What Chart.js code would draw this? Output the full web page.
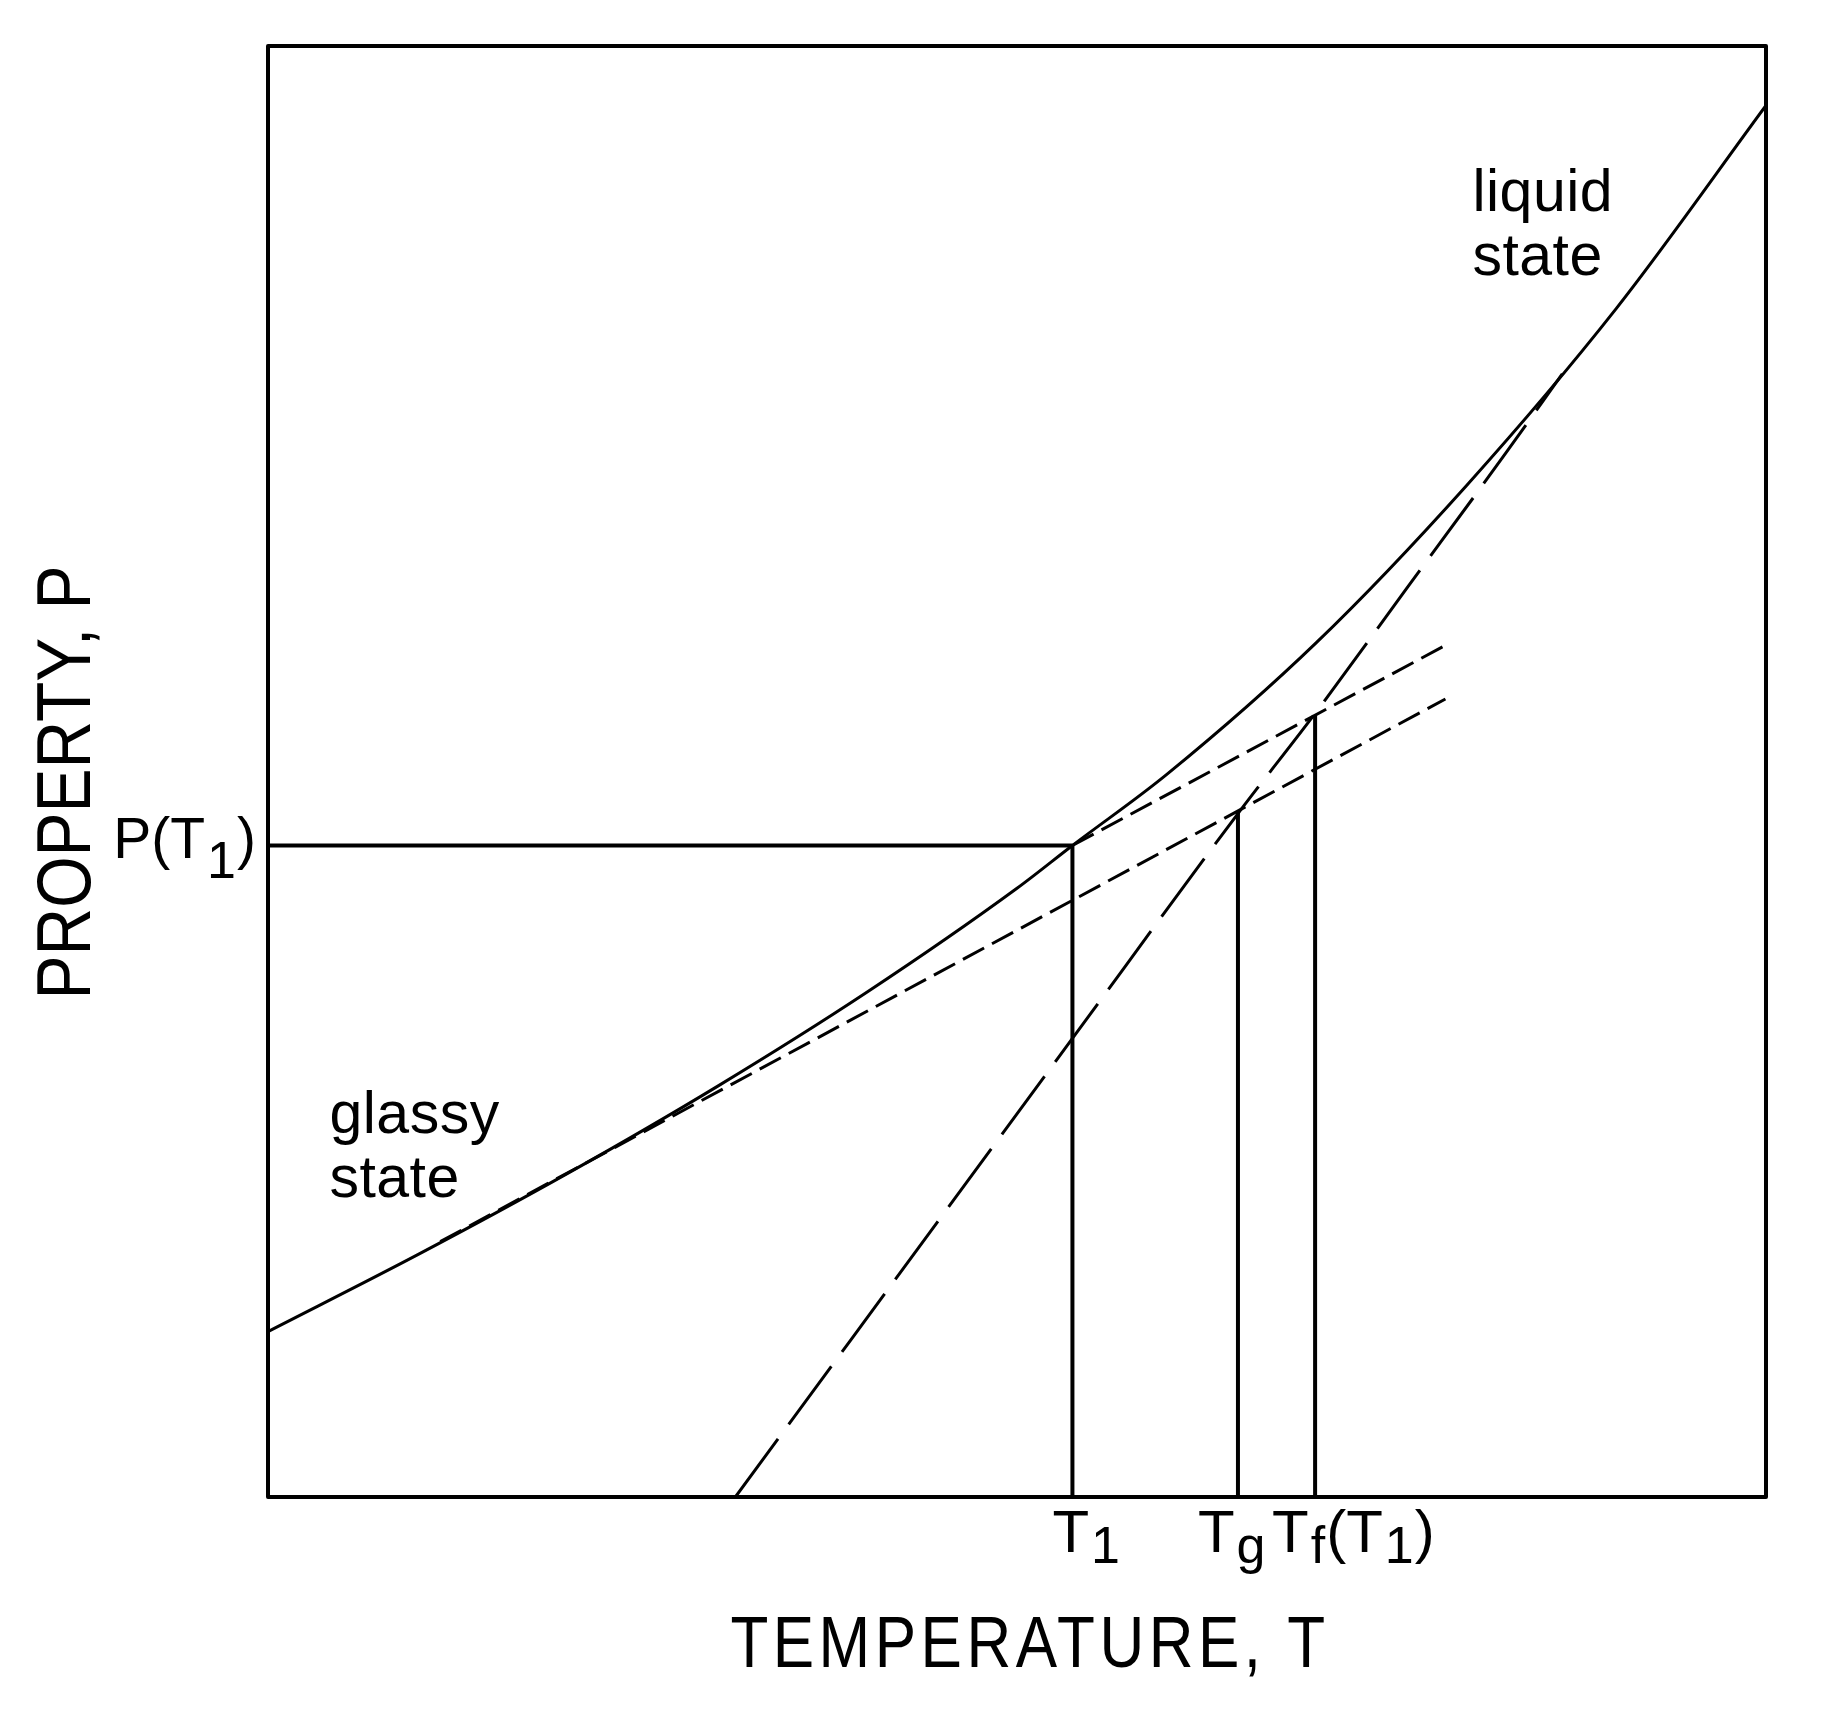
<!DOCTYPE html>
<html>
<head>
<meta charset="utf-8">
<script src="https://cdn.jsdelivr.net/npm/chart.js@4.4.1/dist/chart.umd.min.js"></script>
<style>
  html, body { margin: 0; padding: 0; background: #ffffff; }
  #wrap { width: 1829px; height: 1710px; }
</style>
</head>
<body>
<div id="wrap"><canvas id="c" width="1829" height="1710"></canvas></div>
<script>
// ---- data (temperature T and property P, arbitrary units 0..100) ----
const mainCurveT = [0, 10, 20, 30, 40, 50, 53.7, 60, 70, 80, 90, 100];
const mainCurveP = [11.4, 16.7, 22.3, 28.3, 34.8, 41.95, 44.9, 49.8, 58.9, 69.7, 81.9, 95.9];

const glassLineAT = [11.5, 78.6];
const glassLineAP = [17.6, 55.0];

const glassLineBT = [53.7, 78.6];
const glassLineBP = [44.9, 58.7];

const liquidExtrapT = [31.2, 53.7, 64.75, 69.9, 76.0, 82.6, 86.4];
const liquidExtrapP = [0, 31.6, 47.1, 54.0, 62.6, 71.9, 77.4];

const markerTemps = [53.7, 64.75, 69.9];      // T1, Tg, Tf(T1)
const markerTops  = [44.9, 47.2, 53.9];       // property where each marker line ends
const markerNames = [["T", "1", ""], ["T", "g", ""], ["T", "f", "(T", "1", ")"]];
const propT1 = 44.9;                           // P(T1)

const xTitle = "TEMPERATURE, T";
const yTitle = "PROPERTY, P";
const stateLabels = [
  { lines: ["glassy", "state"], t: 4.1, p: 25.1 },
  { lines: ["liquid", "state"], t: 80.4, p: 88.6 }
];

// ---- helpers ----
function pts(xs, ys) { return xs.map((x, i) => ({ x: x, y: ys[i] })); }

const FONT = '"Liberation Sans", Arial, sans-serif';

const datasets = [
  { data: pts(mainCurveT, mainCurveP), borderWidth: 3, cubicInterpolationMode: 'monotone' },
  { data: pts(glassLineAT, glassLineAP), borderWidth: 3, borderDash: [24, 9] },
  { data: pts(glassLineBT, glassLineBP), borderWidth: 3, borderDash: [24, 9] },
  { data: pts(liquidExtrapT, liquidExtrapP), borderWidth: 3, borderDash: [72, 18], cubicInterpolationMode: 'monotone' },
  { data: [{ x: 0, y: propT1 }, { x: markerTemps[0], y: propT1 }], borderWidth: 4 }
];
markerTemps.forEach((t, i) => {
  datasets.push({ data: [{ x: t, y: 0 }, { x: t, y: markerTops[i] }], borderWidth: 4 });
});
datasets.forEach(d => {
  d.showLine = true;
  d.borderColor = '#000000';
  d.backgroundColor = '#000000';
  d.pointRadius = 0;
  d.fill = false;
  d.borderCapStyle = 'butt';
});

function drawScaledText(ctx, text, x, y, size, align, sy, rot, spacing) {
  ctx.save();
  ctx.translate(x, y);
  if (rot) ctx.rotate(rot);
  ctx.scale(1, sy);
  ctx.font = size + 'px ' + FONT;
  if (spacing) ctx.letterSpacing = spacing + 'px';
  ctx.textAlign = align;
  ctx.textBaseline = 'alphabetic';
  ctx.fillStyle = '#000000';
  ctx.fillText(text, 0, 0);
  ctx.restore();
}

// draws a sequence of [main, sub, main, sub, ...] parts starting at x
function drawSubText(ctx, parts, x, y, size, subSize, subDrop) {
  ctx.save();
  ctx.fillStyle = '#000000';
  ctx.textAlign = 'left';
  ctx.textBaseline = 'alphabetic';
  let cx = x;
  parts.forEach((p, i) => {
    const isSub = i % 2 === 1;
    ctx.font = (isSub ? subSize : size) + 'px ' + FONT;
    ctx.fillText(p, cx, isSub ? y + subDrop : y);
    cx += ctx.measureText(p).width + (isSub ? 1 : 2);
  });
  ctx.restore();
  return cx - x;
}
function measureSubText(ctx, parts, size, subSize) {
  ctx.save();
  let w = 0;
  parts.forEach((p, i) => {
    const isSub = i % 2 === 1;
    ctx.font = (isSub ? subSize : size) + 'px ' + FONT;
    w += ctx.measureText(p).width + (isSub ? 1 : 2);
  });
  ctx.restore();
  return w;
}

const labelOffsets = [-20, -40, -43];   // label start relative to marker line (px)

const decor = {
  id: 'decor',
  beforeDraw(chart) {
    const ctx = chart.ctx;
    ctx.save();
    ctx.fillStyle = '#ffffff';
    ctx.fillRect(0, 0, chart.width, chart.height);
    ctx.restore();
  },
  afterDatasetsDraw(chart) {
    const ctx = chart.ctx;
    const a = chart.chartArea;
    const xs = chart.scales.x, ys = chart.scales.y;
    // frame
    ctx.save();
    ctx.strokeStyle = '#000000';
    ctx.lineWidth = 4;
    ctx.lineJoin = 'round';
    ctx.strokeRect(a.left, a.top, a.right - a.left, a.bottom - a.top);
    ctx.restore();

    // marker labels under the axis
    markerTemps.forEach((t, i) => {
      const px = xs.getPixelForValue(t) + labelOffsets[i];
      drawSubText(ctx, markerNames[i], px, a.bottom + 55, 60, 52, 11);
    });

    // P(T1) label
    const pParts = ["P(T", "1", ")"];
    const w = measureSubText(ctx, pParts, 57, 52);
    drawSubText(ctx, pParts, a.left - 10 - w, ys.getPixelForValue(propT1) + 12, 57, 52, 20);

    // state labels
    stateLabels.forEach(s => {
      const px = xs.getPixelForValue(s.t);
      const py = ys.getPixelForValue(s.p);
      s.lines.forEach((ln, k) => {
        drawScaledText(ctx, ln, px, py + k * 64, 59, 'left', 1, 0, 0.5);
      });
    });

    // axis titles
    drawScaledText(ctx, xTitle, (a.left + a.right) / 2 + 13, a.bottom + 170, 62, 'center', 1.15, 0, 4.5);
    drawScaledText(ctx, yTitle, a.left - 178, (a.top + a.bottom) / 2 + 11, 66, 'center', 1.15, -Math.PI / 2, 0);
  }
};

new Chart(document.getElementById('c'), {
  type: 'scatter',
  data: { datasets: datasets },
  options: {
    responsive: false,
    animation: false,
    events: [],
    layout: { padding: { left: 268, right: 63, top: 46, bottom: 213 } },
    plugins: { legend: { display: false }, tooltip: { enabled: false } },
    scales: {
      x: { type: 'linear', min: 0, max: 100, display: false },
      y: { type: 'linear', min: 0, max: 100, display: false }
    }
  },
  plugins: [decor]
});
</script>
</body>
</html>
